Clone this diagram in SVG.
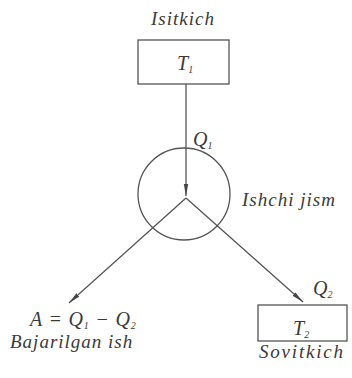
<svg xmlns="http://www.w3.org/2000/svg" width="352" height="378" viewBox="0 0 352 378">
<defs>
<style>
.t{font-family:"Liberation Serif","Times New Roman",serif;font-style:italic;fill:#3a3a3a;font-size:19px;letter-spacing:1px}
.v{font-family:"Liberation Serif","Times New Roman",serif;font-style:italic;fill:#3a3a3a;font-size:20px}
.s{font-size:10px}
.box{fill:#fff;stroke:#555;stroke-width:1.3}
.ln{stroke:#555;stroke-width:1.3;fill:none}
</style>
<marker id="ah" viewBox="0 0 12 6" refX="12" refY="3" markerWidth="12" markerHeight="6" markerUnits="userSpaceOnUse" orient="auto">
<path d="M0,0.8 L12,3 L0,5.2 Z" fill="#444"/>
</marker>
</defs>
<rect width="352" height="378" fill="#fff"/>
<g id="hot">
<text class="t" x="151" y="25">Isitkich</text>
<rect class="box" x="138" y="40" width="91" height="44"/>
<text class="v" x="177" y="70">T<tspan class="s" dy="3">1</tspan></text>
</g>
<g id="body">
<circle class="ln" cx="184" cy="194" r="46"/>
<text class="t" x="242" y="206">Ishchi  jism</text>
</g>
<g id="cold">
<rect class="box" x="258" y="305" width="89" height="36"/>
<text class="v" x="293" y="335">T<tspan class="s" dy="3">2</tspan></text>
<text class="t" x="259" y="358" style="letter-spacing:1.8px">Sovitkich</text>
</g>
<g id="work">
<text class="v" x="30" y="326" style="letter-spacing:0.8px">A = Q<tspan class="s" dy="3">1</tspan><tspan dy="-3"> − Q</tspan><tspan class="s" dy="3">2</tspan></text>
<text class="t" x="10" y="348">Bajarilgan  ish</text>
</g>
<g id="connectors">
<line class="ln" x1="186" y1="84" x2="186" y2="196" marker-end="url(#ah)"/>
<text class="v" x="193" y="146">Q<tspan class="s" dy="3">1</tspan></text>
<line class="ln" x1="186" y1="198" x2="69" y2="303" marker-end="url(#ah)"/>
<line class="ln" x1="186" y1="198" x2="303" y2="302" marker-end="url(#ah)"/>
<text class="v" x="313" y="295">Q<tspan class="s" dy="3">2</tspan></text>
</g>
</svg>
